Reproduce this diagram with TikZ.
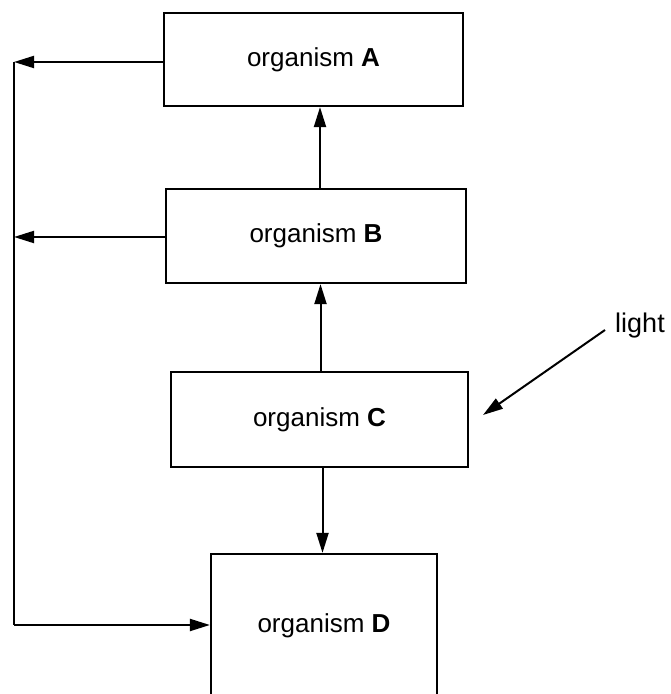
\documentclass[tikz,border=0pt]{standalone}
\usepackage{fontspec}
\setmainfont{Liberation Sans}
\usetikzlibrary{arrows.meta}
\begin{document}
\begin{tikzpicture}[x=1pt,y=1pt,
  orgbox/.style={draw,line width=2.2pt,minimum width=#1,inner sep=0pt,font=\fontsize{26}{31}\selectfont},
  conn/.style={line width=2pt},
  arr/.style={conn,-{Triangle[length=20pt,width=12pt]}}]
\clip (0,0) rectangle (671,694);
\useasboundingbox (0,0) rectangle (671,694);
\node[orgbox=299pt,minimum height=93pt] (A) at (313.5,634.5) {organism \textbf{A}};
\node[orgbox=300pt,minimum height=94pt] (B) at (316,458) {organism \textbf{B}};
\node[orgbox=297pt,minimum height=95pt] (C) at (319.5,274.5) {organism \textbf{C}};
\node[orgbox=226pt,minimum height=144pt] (D) at (324,68) {organism \textbf{D}};
\node[font=\fontsize{27}{32}\selectfont,inner sep=0pt] (L) at (640,368) {light};
\coordinate (LA) at (14,632);
\coordinate (LB) at (14,457);
\coordinate (LD) at (14,69);
\coordinate (ls) at (605,364);
\coordinate (lt) at (483,279);
\draw[arr] (A.west |- LA) -- (LA);
\draw[arr] (B.west |- LB) -- (LB);
\draw[conn] (LA) -- (LD);
\draw[arr] (LD) -- (D.west |- LD);
\draw[arr] ([xshift=4pt]B.north) -- ([xshift=4pt]B.north |- A.south);
\draw[arr] ([xshift=1pt]C.north) -- ([xshift=1pt]C.north |- B.south);
\draw[arr] ([xshift=3pt]C.south) -- ([xshift=3pt]C.south |- D.north);
\draw[arr] (ls) -- (lt);
\end{tikzpicture}
\end{document}
